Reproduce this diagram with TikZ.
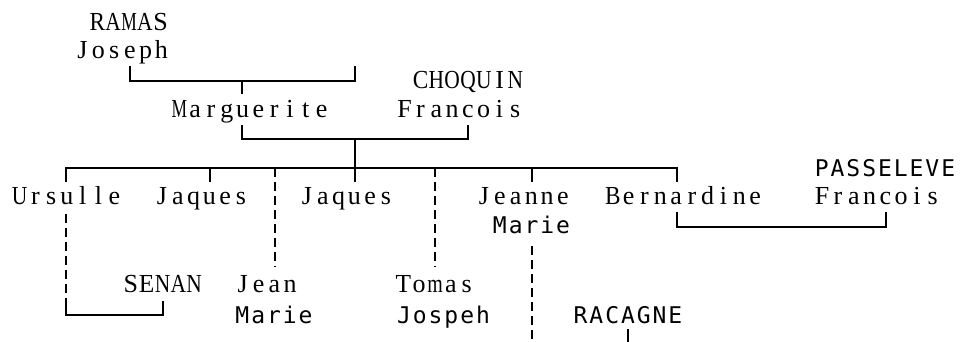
\documentclass[tikz,border=0pt]{standalone}
\usepackage{fontspec}
\usepackage{graphicx}
\newfontfamily\serifm{Liberation Serif}
\newfontfamily\sansm{DejaVu Sans Mono}
\makeatletter
\newsavebox\cellbox
\newcommand\cells[1]{\@tfor\@cc:=#1\do{\sbox\cellbox{\@cc}%
  \ifdim\wd\cellbox>15.5pt \makebox[15.8pt][c]{\resizebox{15.5pt}{\ht\cellbox}{\@cc}}%
  \else\makebox[15.8pt][c]{\@cc}\fi}}
\makeatother
\tikzset{
  sr/.style={inner sep=0pt, anchor=base, font=\serifm\fontsize{26}{26}\selectfont},
  ss/.style={inner sep=0pt, anchor=base, font=\sansm\fontsize{23}{23}\selectfont},
  ln/.style={line width=1.8pt, line cap=rect},
  dl/.style={line width=1.8pt, dash pattern=on 9pt off 5pt}
}
\begin{document}
\begin{tikzpicture}[x=1pt,y=-1pt]
\useasboundingbox (0,0) rectangle (960,341);
% names
\node[sr] (ramas) at (129,30) {\cells{RAMAS}};
\node[sr] (joseph) at (122,58) {\cells{Joseph}};
\node[sr] (marg) at (250.5,117) {\cells{Marguerite}};
\node[sr] (choq) at (468,88) {\cells{CHOQUIN}};
\node[sr] (franc) at (460,117) {\cells{Francois}};
\node[sr] (urs) at (67,204) {\cells{Ursulle}};
\node[sr] (jaq1) at (201.5,204) {\cells{Jaques}};
\node[sr] (jaq2) at (346.5,204) {\cells{Jaques}};
\node[sr] (jeanne) at (523.5,204) {\cells{Jeanne}};
\node[ss] (jmarie) at (531.5,233) {\cells{Marie}};
\node[sr] (bern) at (684,204) {\cells{Bernardine}};
\node[ss] (pass) at (885,176) {\cells{PASSELEVE}};
\node[sr] (pfranc) at (877.5,204) {\cells{Francois}};
\node[sr] (senan) at (162.5,292) {\cells{SENAN}};
\node[sr] (jean) at (266.5,292) {\cells{Jean}};
\node[ss] (jeanmarie) at (274,323) {\cells{Marie}};
\node[sr] (tomas) at (435,292) {\cells{Tomas}};
\node[ss] (jospeh) at (443.5,323) {\cells{Jospeh}};
\node[ss] (racagne) at (628,323) {\cells{RACAGNE}};
% junction coordinates
\coordinate (a1) at (130,67); \coordinate (a2) at (130,81);
\coordinate (a3) at (355,81); \coordinate (a4) at (355,67);
\coordinate (am) at (242,81); \coordinate (amd) at (242,93);
\coordinate (b1) at (242,126); \coordinate (b2) at (242,139);
\coordinate (b3) at (468,139); \coordinate (b4) at (468,126);
\coordinate (bm) at (355,139);
\coordinate (s1) at (66,168); \coordinate (s2) at (677,168);
\coordinate (t1) at (66,181); \coordinate (t2u) at (210,168); \coordinate (t2) at (210,181);
\coordinate (t3) at (355,181); \coordinate (t4u) at (532,168); \coordinate (t4) at (532,181);
\coordinate (t5) at (677,181);
\coordinate (d1u) at (275,168); \coordinate (d1) at (275,267);
\coordinate (d2u) at (435,168); \coordinate (d2) at (435,267);
\coordinate (u1) at (66,214); \coordinate (u2) at (66,302);
\coordinate (u3) at (66,315); \coordinate (u4) at (163,315); \coordinate (u5) at (163,302);
\coordinate (p1) at (677,213); \coordinate (p2) at (677,227);
\coordinate (p3) at (886,227); \coordinate (p4) at (886,213);
\coordinate (m1) at (532,246); \coordinate (m2) at (532,341);
\coordinate (r1) at (628,330); \coordinate (r2) at (628,341);
% connectors
\draw[ln] (a1) -- (a2) -- (a3) -- (a4);
\draw[ln] (am) -- (amd);
\draw[ln] (b1) -- (b2) -- (b3) -- (b4);
\draw[ln] (bm) -- (s1 -| bm);
\draw[ln] (s1) -- (s2);
\draw[ln] (s1) -- (t1);
\draw[ln] (t2u) -- (t2);
\draw[ln] (s1 -| t3) -- (t3);
\draw[ln] (t4u) -- (t4);
\draw[ln] (s2) -- (t5);
\draw[dl] (d1u) -- (d1);
\draw[dl] (d2u) -- (d2);
\draw[dl] (u1) -- (u2);
\draw[ln] (u2) -- (u3) -- (u4) -- (u5);
\draw[ln] (p1) -- (p2) -- (p3) -- (p4);
\draw[dl] (m1) -- (m2);
\draw[ln] (r1) -- (r2);
\end{tikzpicture}
\end{document}
